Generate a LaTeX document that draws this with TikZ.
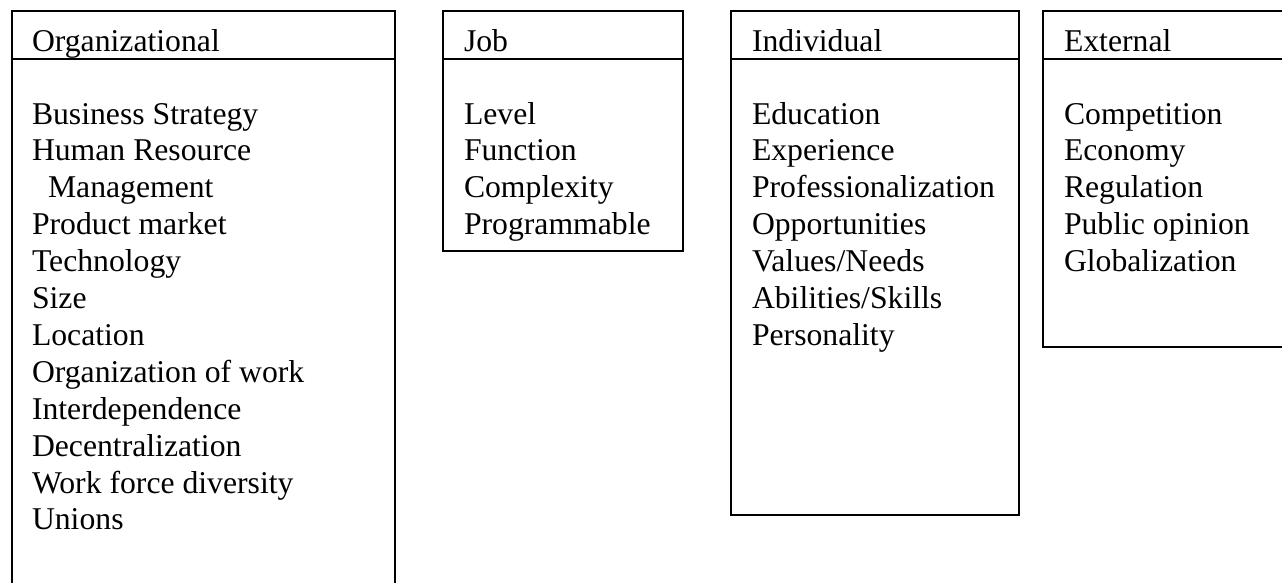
\documentclass[tikz,border=0pt]{standalone}
\usepackage{fontspec}
\setmainfont{Liberation Serif}
\begin{document}
\begin{tikzpicture}[x=1pt,y=-1pt,
  boxline/.style={draw=black,line width=2pt},
  itemtext/.style={anchor=base west,inner sep=0pt,outer sep=0pt,font=\fontsize{31.7}{36.9}\selectfont}]
\useasboundingbox (0,0) rectangle (1282,582);
\clip (0,0) rectangle (1282,582);
% boxes
\draw[boxline] (11.5,620) -- (11.5,11) -- (395,11) -- (395,620);
\draw[boxline] (11.5,59) -- (395,59);
\draw[boxline] (443,11) rectangle (683,251);
\draw[boxline] (443,59) -- (683,59);
\draw[boxline] (731,11) rectangle (1018.5,514.5);
\draw[boxline] (731,59) -- (1018.5,59);
\draw[boxline] (1043,11) rectangle (1320,346.5);
\draw[boxline] (1043,59) -- (1320,59);
% headers
\node[itemtext] (hOrg) at (32,51) {Organizational};
\node[itemtext] (hJob) at (464,51) {Job};
\node[itemtext] (hInd) at (752,51) {Individual};
\node[itemtext] (hExt) at (1064,51) {External};
% organizational items
\node[itemtext] (o0) at (32,124) {Business Strategy};
\node[itemtext] (o1) at (32,160.9) {Human Resource};
\node[itemtext] (o2) at (48,197.8) {Management};
\foreach \t [count=\i from 3] in {Product market,Technology,Size,Location,Organization of work,Interdependence,Decentralization,Work force diversity,Unions}
  \node[itemtext] (o\i) at (32,124+36.9*\i) {\t};
% job items
\foreach \t [count=\i from 0] in {Level,Function,Complexity,Programmable}
  \node[itemtext] (j\i) at (464,124+36.9*\i) {\t};
% individual items
\foreach \t [count=\i from 0] in {Education,Experience,Professionalization,Opportunities,Values/Needs,Abilities/Skills,Personality}
  \node[itemtext] (d\i) at (752,124+36.9*\i) {\t};
% external items
\foreach \t [count=\i from 0] in {Competition,Economy,Regulation,Public opinion,Globalization}
  \node[itemtext] (e\i) at (1064,124+36.9*\i) {\t};
\end{tikzpicture}
\end{document}
